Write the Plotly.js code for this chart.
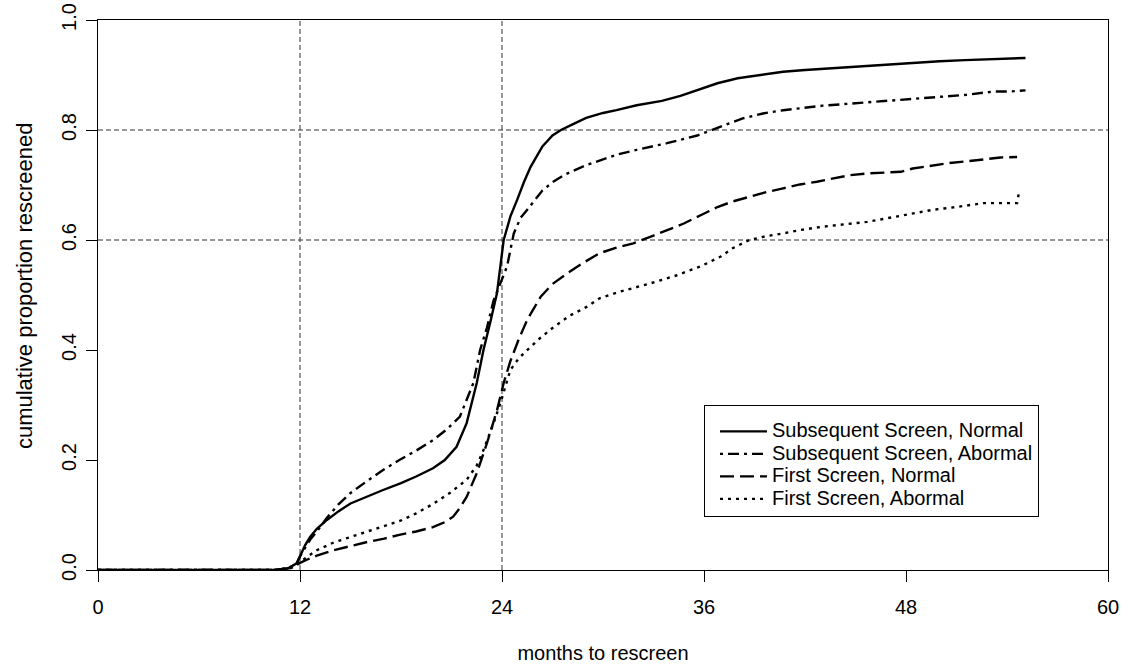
<!DOCTYPE html>
<html>
<head>
<meta charset="utf-8">
<script src="https://cdn.plot.ly/plotly-3.0.1.min.js"></script>
<style>
  html, body { margin: 0; padding: 0; background: #fff; }
  #chart { width: 1127px; height: 669px; }
</style>
</head>
<body>
<div id="chart"></div>
<script>
// ---- data ----
var seriesNames = ["Subsequent Screen, Normal", "Subsequent Screen, Abormal", "First Screen, Normal", "First Screen, Abormal"];

var subNormalX = [0, 10.5, 11.3, 11.8, 12, 12.3, 12.6, 13.0, 13.6, 14.3, 15.0, 16.0, 16.9, 18.0, 18.9, 19.9, 20.6, 21.3, 21.9, 22.5, 22.9, 23.3, 23.7, 24.1, 24.5, 24.9, 25.3, 25.7, 26.4, 27.0, 27.5, 28.1, 29.0, 30.0, 30.8, 32.0, 33.5, 34.6, 35.6, 36.8, 38.0, 39.3, 40.7, 42.0, 43.5, 44.7, 46.5, 48.4, 50.0, 51.5, 53.0, 54.0, 55.1];
var subNormalY = [0, 0, 0.003, 0.012, 0.025, 0.045, 0.06, 0.075, 0.091, 0.107, 0.121, 0.134, 0.145, 0.158, 0.17, 0.185, 0.2, 0.224, 0.267, 0.34, 0.4, 0.45, 0.503, 0.6, 0.643, 0.673, 0.705, 0.733, 0.77, 0.79, 0.8, 0.809, 0.822, 0.831, 0.836, 0.845, 0.853, 0.862, 0.873, 0.885, 0.894, 0.9, 0.906, 0.909, 0.912, 0.915, 0.918, 0.922, 0.925, 0.927, 0.929, 0.93, 0.931];

var subAbnX = [0, 10.5, 11.3, 11.8, 12, 12.3, 12.6, 13.0, 13.6, 14.3, 15.0, 16.0, 17.0, 17.9, 18.9, 19.9, 20.7, 21.5, 22.3, 22.7, 23.1, 23.5, 23.9, 24.3, 24.7, 25.1, 25.5, 26.0, 26.4, 27.0, 27.8, 29.0, 30.0, 30.8, 32.0, 33.8, 35.6, 36.8, 37.5, 38.3, 39.5, 40.7, 41.7, 43.0, 44.7, 46.5, 48.7, 50.0, 51.6, 53.2, 54.2, 55.1];
var subAbnY = [0, 0, 0.003, 0.012, 0.025, 0.04, 0.055, 0.07, 0.095, 0.12, 0.14, 0.162, 0.183, 0.2, 0.217, 0.236, 0.255, 0.279, 0.34, 0.4, 0.44, 0.49, 0.52, 0.552, 0.612, 0.64, 0.655, 0.675, 0.69, 0.705, 0.72, 0.736, 0.747, 0.755, 0.764, 0.776, 0.79, 0.803, 0.812, 0.821, 0.83, 0.836, 0.84, 0.844, 0.848, 0.852, 0.858, 0.86, 0.864, 0.87, 0.87, 0.872];

var firstNormalX = [0, 10.5, 11.5, 12, 12.5, 13, 14, 15, 16, 17, 17.9, 18.9, 19.9, 20.6, 21.1, 21.5, 21.9, 22.5, 23.1, 23.7, 24.1, 24.5, 25.0, 25.5, 26.3, 27.0, 27.9, 28.8, 29.8, 30.8, 31.8, 33.0, 34.8, 35.8, 36.8, 37.7, 38.7, 39.7, 40.7, 41.7, 42.7, 43.7, 44.7, 45.7, 46.7, 47.7, 48.4, 49.5, 50.6, 51.6, 52.6, 53.6, 54.6];
var firstNormalY = [0, 0, 0.004, 0.013, 0.02, 0.026, 0.036, 0.044, 0.051, 0.057, 0.064, 0.07, 0.078, 0.087, 0.097, 0.113, 0.133, 0.176, 0.23, 0.29, 0.34, 0.38, 0.42, 0.455, 0.497, 0.52, 0.54, 0.558, 0.576, 0.586, 0.594, 0.608, 0.63, 0.645, 0.66, 0.67, 0.679, 0.687, 0.694, 0.701, 0.706, 0.712, 0.718, 0.721, 0.722, 0.724, 0.73, 0.735, 0.74, 0.743, 0.747, 0.75, 0.751];

var firstAbnX = [0, 10.5, 11.5, 12, 12.5, 13, 14, 15, 16, 16.9, 18, 18.9, 19.9, 20.9, 21.9, 22.5, 22.9, 23.5, 23.9, 24.5, 25.0, 25.5, 26.2, 27.0, 28.0, 29.0, 29.8, 31.0, 32.8, 34.3, 35.8, 37.0, 37.7, 38.7, 39.7, 40.7, 41.7, 43.0, 44.7, 45.7, 47.5, 49.6, 51.0, 52.6, 53.6, 54.6, 54.7, 54.8];
var firstAbnY = [0, 0, 0.004, 0.015, 0.026, 0.036, 0.05, 0.06, 0.07, 0.078, 0.09, 0.103, 0.12, 0.14, 0.164, 0.19, 0.218, 0.267, 0.303, 0.364, 0.385, 0.4, 0.42, 0.44, 0.462, 0.478, 0.494, 0.506, 0.521, 0.535, 0.552, 0.57, 0.585, 0.6, 0.607, 0.612, 0.618, 0.624, 0.63, 0.633, 0.643, 0.655, 0.66, 0.667, 0.667, 0.667, 0.685, 0.685];

var xTicks = [0, 12, 24, 36, 48, 60];
var yTicks = [0.0, 0.2, 0.4, 0.6, 0.8, 1.0];
var yTickLabels = ["0.0", "0.2", "0.4", "0.6", "0.8", "1.0"];
var refX = [12, 24];
var refY = [0.6, 0.8];
var xTitle = "months to rescreen";
var yTitle = "cumulative proportion rescreened";

// ---- chart ----
var FONT = "Liberation Sans, Arial, sans-serif";
var dashes = ["solid", "3px,5px,11px,5px", "14px,6px", "3px,5px"];
var xs = [subNormalX, subAbnX, firstNormalX, firstAbnX];
var ys = [subNormalY, subAbnY, firstNormalY, firstAbnY];

var traces = seriesNames.map(function (name, i) {
  return {
    type: "scatter", mode: "lines",
    name: '<span style="font-size:20px">' + name + '</span>',
    x: xs[i], y: ys[i],
    line: { color: "#000", width: 2.4, dash: dashes[i] },
    hoverinfo: "skip"
  };
});

var shapes = [];
refX.forEach(function (v) {
  shapes.push({ type: "line", xref: "x", yref: "y", x0: v, x1: v, y0: 0, y1: 1,
    line: { color: "#333", width: 1, dash: "5px,3px" }, layer: "below" });
});
refY.forEach(function (v) {
  shapes.push({ type: "line", xref: "x", yref: "y", x0: 0, x1: 60, y0: v, y1: v,
    line: { color: "#333", width: 1, dash: "5px,3px" }, layer: "below" });
});

var layout = {
  width: 1127, height: 669,
  margin: { l: 98, r: 19, t: 20, b: 99 },
  paper_bgcolor: "#fff", plot_bgcolor: "#fff",
  font: { family: FONT, color: "#000", size: 20 },
  showlegend: true,
  legend: {
    x: 0.6, y: 0.3, xanchor: "left", yanchor: "top",
    bordercolor: "#000", borderwidth: 1, bgcolor: "#fff",
    font: { family: FONT, size: 15, color: "#000" },
    title: { text: " ", font: { family: FONT, size: 7 } },
    tracegroupgap: 0, itemwidth: 47, indentation: 10
  },
  xaxis: {
    range: [0, 60], tickmode: "array", tickvals: xTicks,
    ticks: "outside", ticklen: 11, tickwidth: 1, tickcolor: "#000",
    ticklabelstandoff: 8,
    showline: true, linecolor: "#000", linewidth: 1, mirror: true,
    showgrid: false, zeroline: false,
    tickfont: { family: FONT, size: 20 },
    title: { text: xTitle, font: { family: FONT, size: 20 }, standoff: 28 }
  },
  yaxis: {
    range: [0, 1], tickmode: "array", tickvals: yTicks, ticktext: yTickLabels,
    tickangle: -90,
    ticks: "outside", ticklen: 11, tickwidth: 1, tickcolor: "#000",
    ticklabelstandoff: 2,
    showline: true, linecolor: "#000", linewidth: 1, mirror: true,
    showgrid: false, zeroline: false,
    tickfont: { family: FONT, size: 20 }
  },
  annotations: [{
    text: yTitle, xref: "paper", yref: "paper",
    x: -0.0733, y: 0.518, xanchor: "center", yanchor: "middle",
    textangle: -90, showarrow: false,
    font: { family: FONT, size: 22, color: "#000" }
  }],
  shapes: shapes
};

Plotly.newPlot("chart", traces, layout, { displayModeBar: false, staticPlot: true });
</script>
</body>
</html>
